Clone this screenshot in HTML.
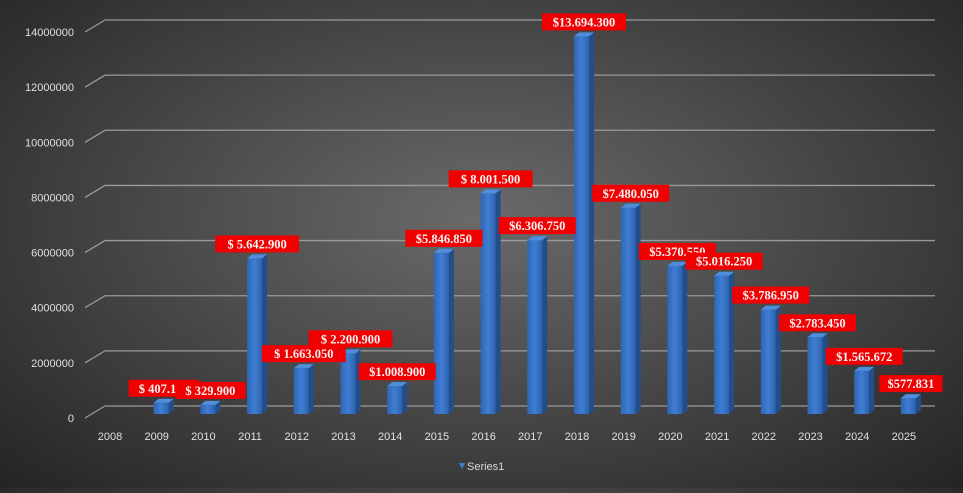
<!DOCTYPE html>
<html><head><meta charset="utf-8"><style>
html,body{margin:0;padding:0;}
body{width:963px;height:488px;overflow:hidden;background:radial-gradient(ellipse at 50% 45%,#6a6a6a 0%,#474747 50%,#242424 100%);font-family:"Liberation Sans",sans-serif;}
</style></head><body>
<svg id="chart" width="963" height="488" xmlns="http://www.w3.org/2000/svg">
<defs>
<linearGradient id="bf" x1="0" x2="1" y1="0" y2="0"><stop offset="0" stop-color="#2f66b5"/><stop offset="0.5" stop-color="#3f7ed4"/><stop offset="1" stop-color="#2d62ad"/></linearGradient>
</defs>
<g id="grid"></g>
<g id="yticks"></g>
<g id="bars"></g>
<g id="xticks"></g>
<g id="labels"></g>
<g>
<path d="M459 463 L465 463 L462 469 Z" fill="#3f7ed4"/>
<text x="467" y="470" font-size="11" fill="#d9d9d9">Series1</text>
</g>
</svg>
<script>
const categories=["2008","2009","2010","2011","2012","2013","2014","2015","2016","2017","2018","2019","2020","2021","2022","2023","2024","2025"];
const values=[0,407100,329900,5642900,1663050,2200900,1008900,5846850,8001500,6306750,13694300,7480050,5370550,5016250,3786950,2783450,1565672,577831];
const labelTexts=["","$ 407.100","$ 329.900","$ 5.642.900","$ 1.663.050","$ 2.200.900","$1.008.900","$5.846.850","$ 8.001.500","$6.306.750","$13.694.300","$7.480.050","$5.370.550","$5.016.250","$3.786.950","$2.783.450","$1.565.672","$577.831"];
const yTicks=[0,2000000,4000000,6000000,8000000,10000000,12000000,14000000];
const NS="http://www.w3.org/2000/svg";
function y(v){return 414-v/14000000*386;}
function x(i){return 110+i*46.7;}
function mk(tag,attrs,parent){const e=document.createElementNS(NS,tag);for(const k in attrs)e.setAttribute(k,attrs[k]);parent.appendChild(e);return e;}
const grid=document.getElementById('grid'),yt=document.getElementById('yticks'),bars=document.getElementById('bars'),xt=document.getElementById('xticks'),lab=document.getElementById('labels');
yTicks.forEach(t=>{const yy=y(t);
const p=mk('path',{d:`M85 ${yy+4} L105 ${yy-8} L935 ${yy-8}`,stroke:'#9a9a9a','stroke-width':1.3,fill:'none'},grid);


const tx=mk('text',{x:74,y:yy+8,'font-size':11,fill:'#e0e0e0','text-anchor':'end'},yt);tx.textContent=t;

});
categories.forEach((c,i)=>{const cx=x(i)+5;
if(values[i]>0){const top=y(values[i]);const g=mk('g',{},bars);


mk('rect',{x:cx-8,y:top,width:15,height:414-top,fill:'url(#bf)'},g);
mk('path',{d:`M${cx+7} ${top} L${cx+12} ${top-4} L${cx+12} ${410} L${cx+7} 414 Z`,fill:'#234e8c'},g);
mk('path',{d:`M${cx-8} ${top} L${cx-3} ${top-4} L${cx+12} ${top-4} L${cx+7} ${top} Z`,fill:'#4f8ddd'},g);
const w=labelTexts[i].length*6.9+8;const bx=cx+2-w/2,by=top-23;
const lg=mk('g',{},lab);


mk('rect',{x:bx,y:by,width:w,height:17,fill:'#f00000'},lg);
const lt=mk('text',{x:cx+2,y:by+13,'font-size':12.5,'font-weight':'bold','font-family':'Liberation Serif, serif',fill:'#f4f4f4','text-anchor':'middle'},lg);lt.textContent=labelTexts[i];}
const tx=mk('text',{x:x(i),y:440,'font-size':11,fill:'#e0e0e0','text-anchor':'middle'},xt);tx.textContent=c;

});
</script>
</body></html>
